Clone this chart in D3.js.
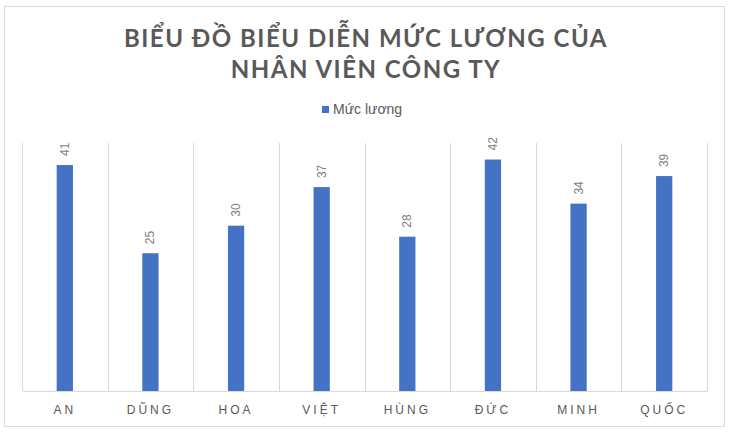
<!DOCTYPE html>
<html>
<head>
<meta charset="utf-8">
<script src="https://cdn.jsdelivr.net/npm/d3@7"></script>
<style>
  body { margin: 0; background: #fff; }
  svg { display: block; }
</style>
</head>
<body>
<svg id="chart"></svg>
<script>
// data
var names = ["An", "Dũng", "Hoa", "Việt", "Hùng", "Đức", "Minh", "Quốc"];
var salary = [41, 25, 30, 37, 28, 42, 34, 39];
var seriesName = "Mức lương";
var titleLines = ["BIỂU ĐỒ BIỂU DIỄN MỨC LƯƠNG CỦA", "NHÂN VIÊN CÔNG TY"];

function init(){
    var W = 732, H = 433;
    var margin = {top: 143, right: 25, bottom: 42, left: 22};
    var width = W - margin.left - margin.right;
    var height = H - margin.top - margin.bottom;

    var svg = d3.select("#chart")
        .attr("width", W)
        .attr("height", H);

    // outer frame
    svg.append("rect")
        .attr("x", 4.5).attr("y", 6.5)
        .attr("width", 720).attr("height", 420)
        .attr("fill", "#fff")
        .attr("stroke", "#d9d9d9");

    // title
    svg.append("text")
        .attr("x", 366).attr("text-anchor", "middle")
        .attr("font-family", "Lato, 'Open Sans', sans-serif")
        .attr("font-weight", "bold")
        .attr("font-size", 24)
        .attr("letter-spacing", 1.5)
        .attr("fill", "#595959")
        .selectAll("tspan")
        .data(titleLines)
        .enter()
        .append("tspan")
        .attr("x", 366)
        .attr("y", function(d, i) { return 47 + i * 31; })
        .text(function(d) { return d; });

    // legend
    var leg = svg.append("g").attr("transform", "translate(322,104)");
    leg.append("rect")
        .attr("width", 7).attr("height", 7).attr("y", 2)
        .attr("fill", "#4472c4");
    leg.append("text")
        .attr("x", 11).attr("y", 10)
        .attr("font-family", "'Liberation Sans', Arial, sans-serif")
        .attr("font-size", 14)
        .attr("fill", "#595959")
        .text(seriesName);

    var g = svg.append("g")
        .attr("transform", "translate(" + margin.left + "," + margin.top + ")");

    var x = d3.scaleBand()
        .domain(names)
        .range([0, width]);

    var y = d3.scaleLinear()
        .domain([0, 45])
        .range([height, 0]);

    // vertical gridlines at category edges
    var edges = names.map(function(d) { return x(d); }).concat([width]);
    g.selectAll(".grid")
        .data(edges)
        .enter()
        .append("line")
        .attr("class", "grid")
        .attr("x1", function(d) { return Math.round(d) + 0.5; })
        .attr("x2", function(d) { return Math.round(d) + 0.5; })
        .attr("y1", 0).attr("y2", height)
        .attr("stroke", "#d9d9d9");

    // bars
    var bw = x.bandwidth() * 0.19;
    g.selectAll(".bar")
        .data(salary)
        .enter()
        .append("rect")
        .attr("class", "bar")
        .attr("x", function(d, i) { return x(names[i]) + x.bandwidth() / 2 - bw / 2; })
        .attr("y", function(d) { return y(d); })
        .attr("width", bw)
        .attr("height", function(d) { return height - y(d); })
        .attr("fill", "#4472c4");

    // value labels, rotated
    g.selectAll(".val")
        .data(salary)
        .enter()
        .append("text")
        .attr("class", "val")
        .attr("transform", function(d, i) {
            return "translate(" + (x(names[i]) + x.bandwidth() / 2 + 4) + "," + (y(d) - 9) + ") rotate(-90)";
        })
        .attr("font-family", "'Liberation Sans', Arial, sans-serif")
        .attr("font-size", 12)
        .attr("fill", "#7f7f7f")
        .text(function(d) { return d; });

    // x axis
    var xAxis = g.append("g")
        .attr("transform", "translate(0," + height + ")")
        .call(d3.axisBottom(x).tickSize(0).tickPadding(14).tickFormat(function(d) { return d.toUpperCase(); }));
    xAxis.select(".domain").attr("stroke", "#d9d9d9");
    xAxis.selectAll("text")
        .attr("font-family", "'Liberation Sans', Arial, sans-serif")
        .attr("font-size", 12)
        .attr("letter-spacing", 3)
        .attr("fill", "#595959");
}
window.onload = init;
</script>
</body>
</html>
